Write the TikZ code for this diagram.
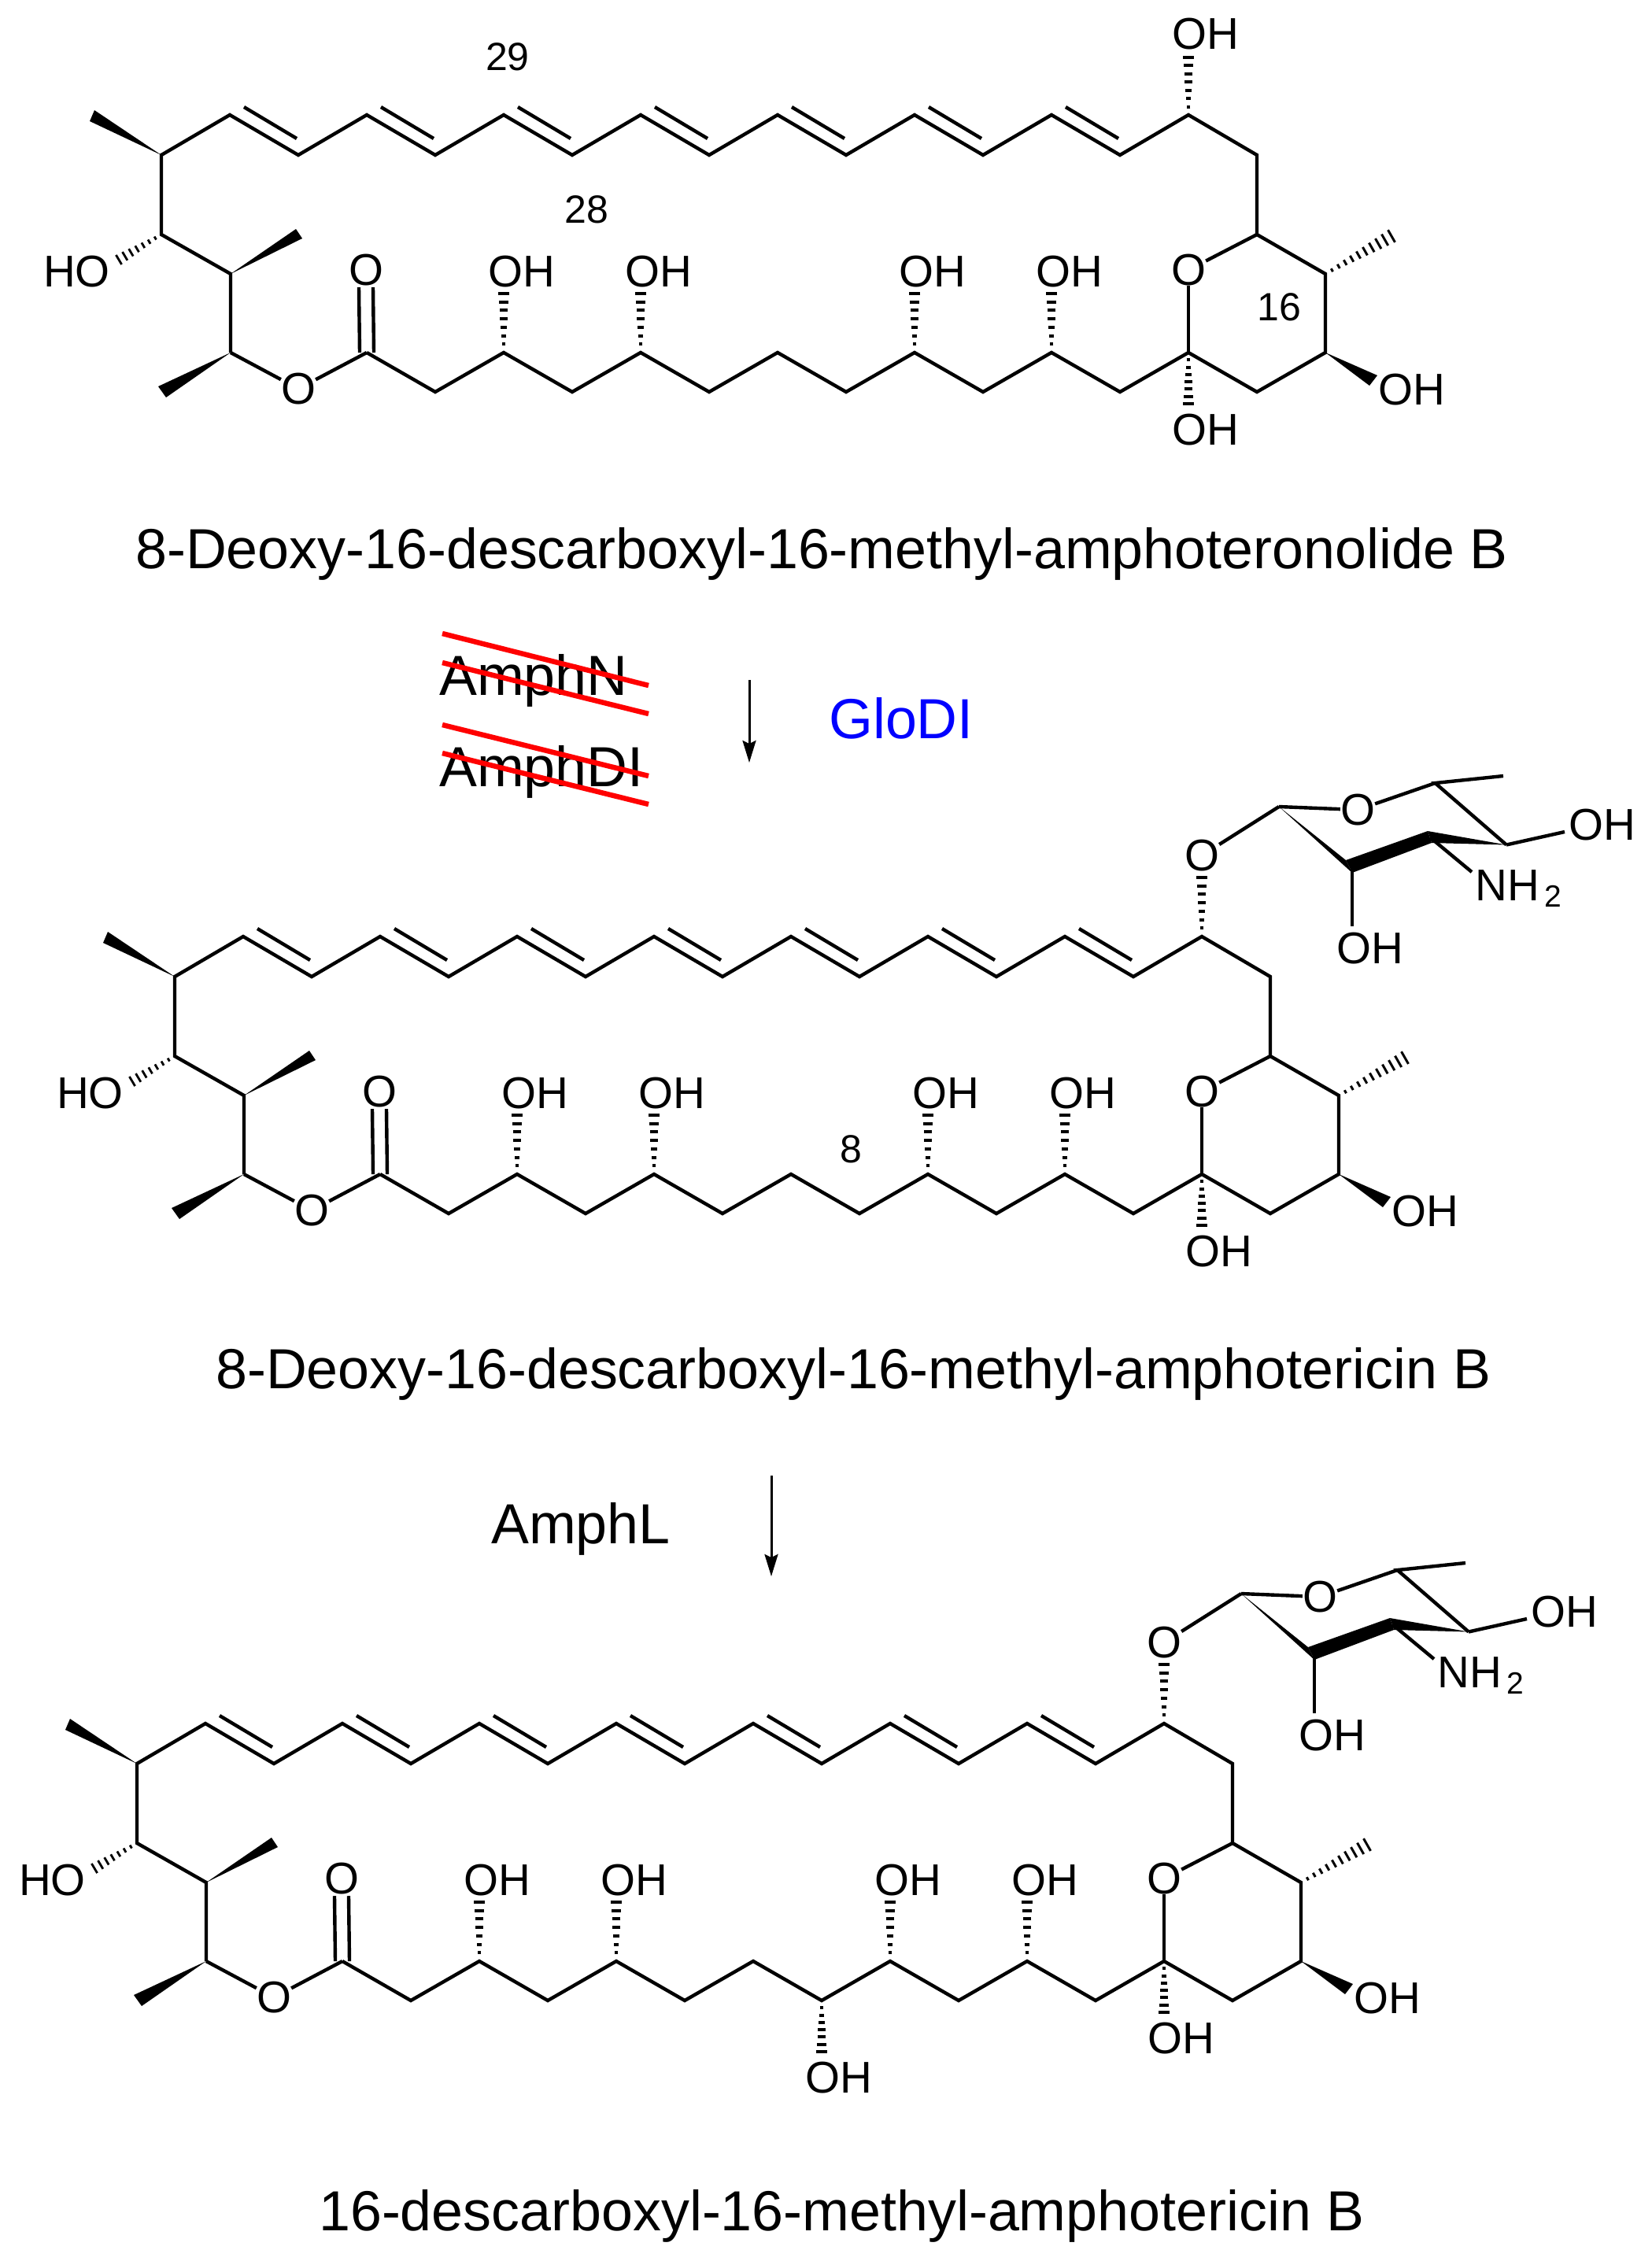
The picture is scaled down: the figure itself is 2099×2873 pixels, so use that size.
\documentclass[tikz,border=0pt]{standalone}
\usepackage{fontspec}
\setmainfont{Liberation Sans}
\usetikzlibrary{calc,arrows.meta}
\tikzset{
  bond/.style={line width=4.4pt,line cap=butt},
  wedgeb/.style={fill=black,draw=none},
  lab/.style={inner sep=0pt,font=\fontsize{56.5}{56.5}\selectfont},
  num/.style={inner sep=0pt,font=\fontsize{50}{50}\selectfont},
  big/.style={inner sep=0pt,anchor=base west,font=\fontsize{71.8}{72}\selectfont},
  strike/.style={red,line width=6.5pt},
  rxn/.style={line width=3pt,-{Stealth[length=28pt,width=17pt,inset=4pt]}}
}
% hashed bond: from, to, stripes, end half width, stripe width
\newcommand\hashb[5]{%
  \foreach \i in {1,...,#3}{%
    \pgfmathsetmacro\t{\i/#3}%
    \pgfmathsetmacro\w{1.5+(#4-1.5)*\t}%
    \coordinate (hs) at ($(#1)!\t!(#2)$);
    \draw[line width=#5pt] ($(hs)!\w pt!90:(#1)$) -- ($(hs)!\w pt!-90:(#1)$);
  }}
% upward hashed OH on the lower chain
\newcommand\ohup[2]{%
  \pgfmathsetmacro\xq{205+87*#2}%
  \coordinate (#1E#2) at (\xq,373);
  \node[lab,anchor=base west] (#1OH#2) at ({\xq-20},364) {OH};
  \hashb{#1B#2}{#1E#2}{7}{7}{4}
}
% double bond inner line, from upper-left vertex, given by its index
\newcommand\dbl[2]{%
  \pgfmathsetmacro\xq{205+87*#2}%
  \coordinate (#1Da#2) at ({\xq+18},136);
  \coordinate (#1Db#2) at ({\xq+85},176);
  \draw[bond] (#1Da#2) -- (#1Db#2);
}
\newcommand\lactone[3]{%
\begin{scope}[shift={(#2,#3)}]
  \foreach \k in {0,...,16}{%
    \pgfmathsetmacro\xx{205+87*\k}%
    \pgfmathsetmacro\yy{mod(\k,2)==1 ? 146 : 197}%
    \coordinate (#1T\k) at (\xx,\yy);
  }
  \foreach \k in {3,...,17}{%
    \pgfmathsetmacro\xx{205+87*\k}%
    \pgfmathsetmacro\yy{mod(\k,2)==1 ? 448 : 498}%
    \coordinate (#1B\k) at (\xx,\yy);
  }
  \coordinate (#1L1) at (205,298);
  \coordinate (#1L2) at (293,348);
  \coordinate (#1L3) at (293,448);
  \coordinate (#1R1) at (1597,298);
  \coordinate (#1R2) at (1684,348);
  \draw[bond] (#1L3) -- (#1L2) -- (#1L1) -- (#1T0)
    \foreach \k in {1,...,16}{ -- (#1T\k)} -- (#1R1) -- (#1R2) -- (#1B17)
    \foreach \k in {16,15,...,3}{ -- (#1B\k)};
  \foreach \k in {1,3,5,7,9,11,13}{\dbl{#1}{\k}}
  % atom labels
  \node[lab] (#1Oe) at (379,494) {O};
  \node[lab] (#1Oc) at (465,343) {O};
  \node[lab] (#1Or) at (1510,343) {O};
  \node[lab,anchor=base west] (#1HO) at (55,364) {HO};
  \draw[bond] (#1L3) -- (#1Oe);
  \draw[bond] (#1Oe) -- (#1B3);
  \draw[bond] (#1R1) -- (#1Or);
  \draw[bond] (#1Or) -- (#1B15);
  \draw[bond] ([xshift=-9pt]#1B3) -- ([xshift=-9pt,yshift=-2pt]#1Oc.south);
  \draw[bond] ([xshift=9pt]#1B3) -- ([xshift=9pt,yshift=-2pt]#1Oc.south);
  % solid wedges
  \fill[wedgeb] (#1T0) -- (120,140) -- (114,154) -- cycle;
  \fill[wedgeb] (#1L2) -- (376,291) -- (384,303) -- cycle;
  \fill[wedgeb] (#1L3) -- (201,491) -- (211,505) -- cycle;
  \fill[wedgeb] (#1B17) -- (1750,477) -- (1740,490) -- cycle;
  \node[lab,anchor=base west] (#1OHw) at (1751,514) {OH};
  % hashed bonds
  \coordinate (#1Hq) at (151,330);
  \hashb{#1L1}{#1Hq}{7}{7}{2.8}
  \coordinate (#1Mq) at (1768,300);
  \hashb{#1R2}{#1Mq}{10}{9}{3}
  \ohup{#1}{5}\ohup{#1}{7}\ohup{#1}{11}\ohup{#1}{13}
  \coordinate (#1Eb) at (1510,513);
  \hashb{#1B15}{#1Eb}{7}{7}{4}
  \node[lab,anchor=base west] (#1OHb) at (1489,565) {OH};
\end{scope}}
\newcommand\glyco[3]{%
\begin{scope}[shift={(#2,#3)}]
  \node[lab] (#1Og) at (1510,43) {O};
  \coordinate (#1Eg) at (1510,71);
  \hashb{#1T15}{#1Eg}{7}{7}{4}
  \coordinate (#1C1) at (1608,-19);
  \coordinate (#1C2) at (1701,57);
  \coordinate (#1C3) at (1800,20);
  \coordinate (#1C4) at (1897,29.5);
  \coordinate (#1C5) at (1806.5,-49);
  \coordinate (#1Me) at (1893,-58);
  \node[lab] (#1O5) at (1708,-15) {O};
  \node[lab,anchor=base west] (#1O4) at (1976,23) {OH};
  \node[lab,anchor=base west] (#1O2) at (1681,180.5) {OH};
  \node[lab,anchor=base west] (#1Nn) at (1857,100) {NH};
  \node[inner sep=0pt,anchor=base west,font=\fontsize{39}{39}\selectfont] (#1Ns) at (1945,108) {2};
  \coordinate (#1Oe4) at (1971,13);
  \coordinate (#1Oe2) at (1701,133);
  \coordinate (#1Ne) at (1853,64);
  \draw[bond] (#1Og) -- (#1C1);
  \draw[bond] (#1C1) -- (#1O5);
  \draw[bond] (#1O5) -- (#1C5);
  \draw[bond] (#1Me) -- (#1C5) -- (#1C4);
  \draw[bond] (#1C4) -- (#1Oe4);
  \draw[bond] (#1C2) -- (#1Oe2);
  \draw[bond] (#1C3) -- (#1Ne);
  \fill[wedgeb] (#1C1) -- (1693,49) -- (1701,65) -- cycle;
  \fill[wedgeb] (1693,49) -- (1797,12) -- (1802,27) -- (1701,65) -- cycle;
  \fill[wedgeb] (1797,12) -- (#1C4) -- (1802,27) -- cycle;
\end{scope}}
\begin{document}
\begin{tikzpicture}[x=1pt,y=-1pt]
\useasboundingbox (0,0) rectangle (2099,2873);
\fill[white] (0,0) rectangle (2099,2873);
% molecule 1
\lactone{a}{0}{0}
\node[lab,anchor=base west] (aOHt) at (1489,62) {OH};
\coordinate (aEt) at (1510,73);
\hashb{aT15}{aEt}{7}{7}{4}
\node[num] (n29) at (645,72) {29};
\node[num] (n28) at (745,266) {28};
\node[num] (n16) at (1625,390) {16};
\node[big] (cap1) at (172,722) {8-Deoxy-16-descarboxyl-16-methyl-amphoteronolide B};
% enzymes
\node[big] (en1) at (558,883) {AmphN};
\node[big] (en2) at (558,999) {AmphDI};
\node[big,text={rgb,255:red,0;green,0;blue,255}] (en3) at (1053,938) {GloDI};
\coordinate (s1a) at (562,805); \coordinate (s1b) at (824,871);
\coordinate (s2a) at (562,842); \coordinate (s2b) at (824,907);
\coordinate (s3a) at (562,921); \coordinate (s3b) at (824,986);
\coordinate (s4a) at (562,957); \coordinate (s4b) at (824,1022);
\draw[strike] (s1a) -- (s1b);
\draw[strike] (s2a) -- (s2b);
\draw[strike] (s3a) -- (s3b);
\draw[strike] (s4a) -- (s4b);
\coordinate (r1a) at (952,864); \coordinate (r1b) at (952,969);
\draw[rxn] (r1a) -- (r1b);
% molecule 2
\lactone{b}{17}{1044}
\glyco{b}{17}{1044}
\node[num] (n8) at (1081,1460) {8};
\node[big] (cap2) at (274,1764) {8-Deoxy-16-descarboxyl-16-methyl-amphotericin B};
\node[big] (en4) at (624,1961) {AmphL};
\coordinate (r2a) at (980,1875); \coordinate (r2b) at (980,2003);
\draw[rxn] (r2a) -- (r2b);
% molecule 3
\lactone{c}{-31}{2044}
\glyco{c}{-31}{2044}
\begin{scope}[shift={(-31,2044)}]
  \coordinate (cEl) at (1075,563);
  \hashb{cB10}{cEl}{7}{7}{4}
  \node[lab,anchor=base west] (cOHl) at (1054,615) {OH};
\end{scope}
\node[big] (cap3) at (405,2834) {16-descarboxyl-16-methyl-amphotericin B};
\end{tikzpicture}
\end{document}
